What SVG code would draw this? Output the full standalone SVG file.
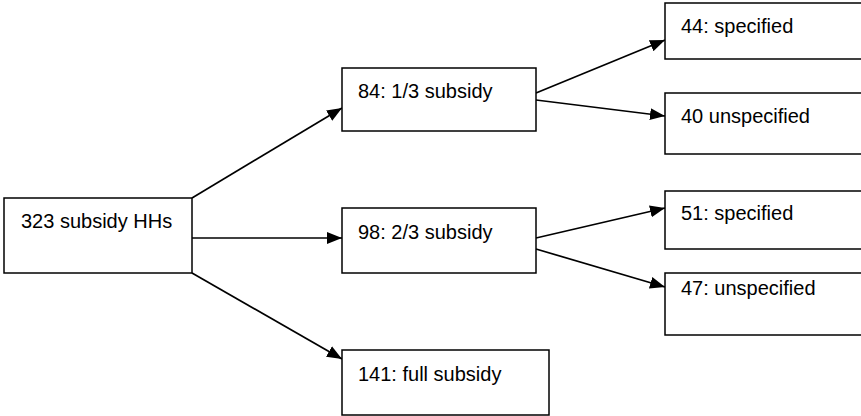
<svg xmlns="http://www.w3.org/2000/svg" width="861" height="416" viewBox="0 0 861 416">
<style>
.box{fill:#fff;stroke:#000;stroke-width:1.5}
.lbl{font-family:"Liberation Sans",Arial,sans-serif;font-size:20px;fill:#000}
.edge{stroke:#000;stroke-width:1.7;fill:none;marker-end:url(#ah)}
</style>
<defs>
<marker id="ah" markerUnits="userSpaceOnUse" markerWidth="17" markerHeight="13" refX="15" refY="6" orient="auto" viewBox="0 0 17 12">
<path d="M0,0 L15,6 L0,12 Z" fill="#000"/>
</marker>
</defs>
<rect width="861" height="416" fill="#fff"/>
<g id="connectors">
<line class="edge" x1="192" y1="198" x2="342" y2="108"/>
<line class="edge" x1="192" y1="238" x2="342" y2="238"/>
<line class="edge" x1="192" y1="273" x2="342" y2="359"/>
<line class="edge" x1="536" y1="93" x2="665" y2="40"/>
<line class="edge" x1="536" y1="100" x2="665" y2="116"/>
<line class="edge" x1="536" y1="238" x2="665" y2="208"/>
<line class="edge" x1="536" y1="249" x2="665" y2="287"/>
</g>
<g id="n-root">
<rect class="box" x="4" y="198" width="188" height="75"/>
<text class="lbl" x="21" y="228">323 subsidy HHs</text>
</g>
<g id="n-third">
<rect class="box" x="342" y="68" width="194" height="63"/>
<text class="lbl" x="358" y="98">84: 1/3 subsidy</text>
</g>
<g id="n-twothirds">
<rect class="box" x="342" y="208" width="194" height="65"/>
<text class="lbl" x="358" y="239">98: 2/3 subsidy</text>
</g>
<g id="n-full">
<rect class="box" x="342" y="350" width="207" height="65"/>
<text class="lbl" x="358" y="381">141: full subsidy</text>
</g>
<g id="n-44">
<rect class="box" x="665" y="3" width="210" height="56"/>
<text class="lbl" x="681" y="33">44: specified</text>
</g>
<g id="n-40">
<rect class="box" x="665" y="93" width="210" height="61"/>
<text class="lbl" x="681" y="123">40 unspecified</text>
</g>
<g id="n-51">
<rect class="box" x="665" y="191" width="210" height="58"/>
<text class="lbl" x="681" y="220">51: specified</text>
</g>
<g id="n-47">
<rect class="box" x="665" y="273" width="210" height="62"/>
<text class="lbl" x="681" y="295">47: unspecified</text>
</g>
</svg>
